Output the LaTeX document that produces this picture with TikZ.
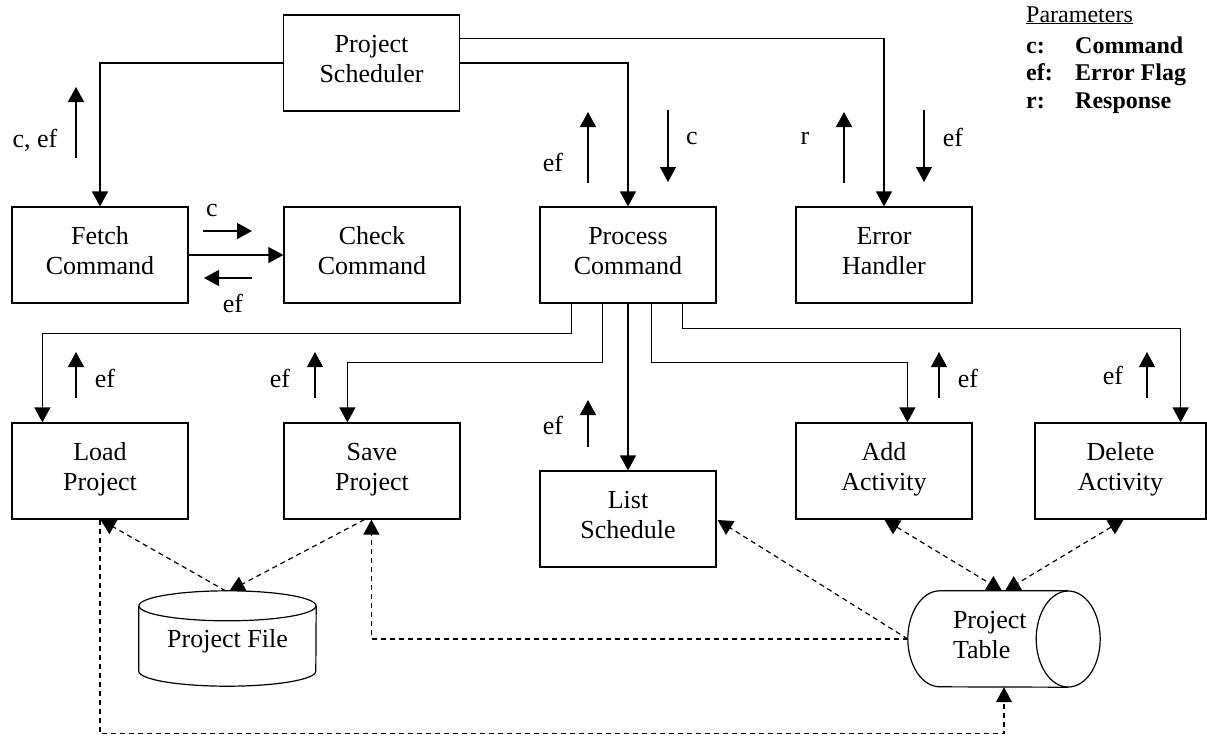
\documentclass[tikz,border=0pt]{standalone}
\usepackage{fontspec}
\setmainfont{Liberation Serif}
\usetikzlibrary{arrows.meta,calc}
\begin{document}
\begin{tikzpicture}[x=1pt,y=-1pt,
  every node/.style={font=\fontsize{26pt}{30pt}\selectfont},
  box/.style={draw,line width=1.2pt,minimum width=176pt,minimum height=96pt,align=center,inner sep=0pt,text depth=9pt},
  flow/.style={line width=1.2pt,-{Triangle[length=15pt,width=16pt]}},
  sig/.style={line width=1.2pt,-{Triangle[length=15pt,width=16pt]}},
  dflow/.style={line width=1.2pt,dash pattern=on 5pt off 4pt,-{Triangle[length=15pt,width=16pt]}},
  dboth/.style={line width=1.2pt,dash pattern=on 5pt off 4pt,{Triangle[length=15pt,width=16pt]}-{Triangle[length=15pt,width=16pt]}},
  outline/.style={line width=1.2pt},
  lab/.style={inner sep=0pt},
  legtitle/.style={font=\fontsize{24pt}{28pt}\selectfont,anchor=base west,inner sep=0pt},
  leg/.style={font=\fontsize{24pt}{28pt}\selectfont\bfseries,anchor=base west,inner sep=0pt}
]
\useasboundingbox (0,0) rectangle (1207,737);

% boxes
\node[box] (sched) at (371.5,63) {Project\\Scheduler};
\node[box] (fetch) at (100,255) {Fetch\\Command};
\node[box] (check) at (372,255) {Check\\Command};
\node[box] (proc) at (628,255) {Process\\Command};
\node[box] (err) at (884,255) {Error\\Handler};
\node[box] (load) at (100,471) {Load\\Project};
\node[box] (save) at (372,471) {Save\\Project};
\node[box] (list) at (628,519) {List\\Schedule};
\node[box] (add) at (884,471) {Add\\Activity};
\node[box,minimum width=171pt] (del) at (1120.5,471) {Delete\\Activity};

% Project File cylinder (vertical)
\node[minimum width=177pt,minimum height=95pt,inner sep=0pt,text depth=0pt] (pfile) at (227.5,638.5) {Project File};
\draw[outline] ($(pfile.north west)+(0,15)$) -- ($(pfile.south west)+(0,-15)$)
  arc[start angle=180,end angle=0,x radius=88.5,y radius=15] -- ($(pfile.north east)+(0,15)$);
\draw[outline] ($(pfile.north)+(0,15)$) ellipse[x radius=88.5,y radius=15];

% Project Table cylinder (horizontal)
\node[minimum width=192pt,minimum height=96pt,inner sep=0pt,text width=102pt,align=left] (ptable) at (1004,639) {Project\\Table\strut};
\draw[outline] ($(ptable.north east)+(-32,0)$) -- ($(ptable.north west)+(32,0)$)
  arc[start angle=270,end angle=90,x radius=32,y radius=48] -- ($(ptable.south east)+(-32,0)$);
\draw[outline] ($(ptable.east)+(-32,0)$) ellipse[x radius=32,y radius=48];

% control connectors
\draw[flow] (sched.west) -| (fetch.north);
\draw[flow] ($(sched.north east)+(0,24)$) -| (err.north);
\draw[flow] (sched.east) -| (proc.north);
\draw[flow] (fetch) -- (check);
\draw[flow] ($(proc.south west)+(32,0)$) -- ++(0,30) -| ($(load.north west)+(31,0)$);
\draw[flow] ($(proc.south west)+(63,0)$) -- ++(0,59) -| ($(save.north west)+(64,0)$);
\draw[flow] (proc) -- (list);
\draw[flow] ($(proc.south west)+(112,0)$) -- ++(0,59) -| ($(add.north west)+(112,0)$);
\draw[flow] ($(proc.south west)+(143,0)$) -- ++(0,25) -| ($(del.north east)+(-26,0)$);

% data connectors (dashed)
\draw[dflow] ($(pfile.north)+(-2,0)$) -- ($(load.south west)+(89,0)$);
\draw[dflow] ($(save.south west)+(81,0)$) -- ($(pfile.north)+(2,0)$);
\draw[dflow] (ptable.west) -- ($(list.east)+(1,1)$);
\draw[dflow] (ptable.west) -| ($(save.south west)+(88,0)$);
\draw[dboth] ($(add.south west)+(89,0)$) -- ($(ptable.north)+(-2,0)$);
\draw[dboth] ($(del.south east)+(-83,0)$) -- ($(ptable.north)+(1,0)$);
\draw[dflow] (load.south) -- ++(0,214) -| (ptable.south);

% parameter flags
\draw[sig] (76,158) -- (76,87);
\node[lab] (l1) at (35,140) {c, ef};
\draw[sig] (203,231) -- (252,231);
\node[lab] (l2) at (212,210) {c};
\draw[sig] (252,278) -- (204,278);
\node[lab] (l3) at (233,303) {ef};
\draw[sig] (588,183) -- (588,112);
\node[lab] (l4) at (553,162) {ef};
\draw[sig] (668,110) -- (668,182);
\node[lab] (l5) at (692,138) {c};
\draw[sig] (844,183) -- (844,112);
\node[lab] (l6) at (805,138) {r};
\draw[sig] (924,110) -- (924,182);
\node[lab] (l7) at (953,137) {ef};
\draw[sig] (76,398) -- (76,352);
\node[lab] (l8) at (105,378) {ef};
\draw[sig] (315,398) -- (315,352);
\node[lab] (l9) at (280,378) {ef};
\draw[sig] (588,447) -- (588,400);
\node[lab] (l10) at (553,425) {ef};
\draw[sig] (939,398) -- (939,352);
\node[lab] (l11) at (968,378) {ef};
\draw[sig] (1147,398) -- (1147,352);
\node[lab] (l12) at (1113,375) {ef};

% legend
\node[legtitle] (ptitle) at (1026,22) {\underline{Parameters}};
\node[leg] (lc) at (1026,53) {c:};
\node[leg] (lcn) at (1075,53) {Command};
\node[leg] (lef) at (1026,80) {ef:};
\node[leg] (lefn) at (1075,80) {Error Flag};
\node[leg] (lr) at (1026,108) {r:};
\node[leg] (lrn) at (1075,108) {Response};
\end{tikzpicture}
\end{document}
